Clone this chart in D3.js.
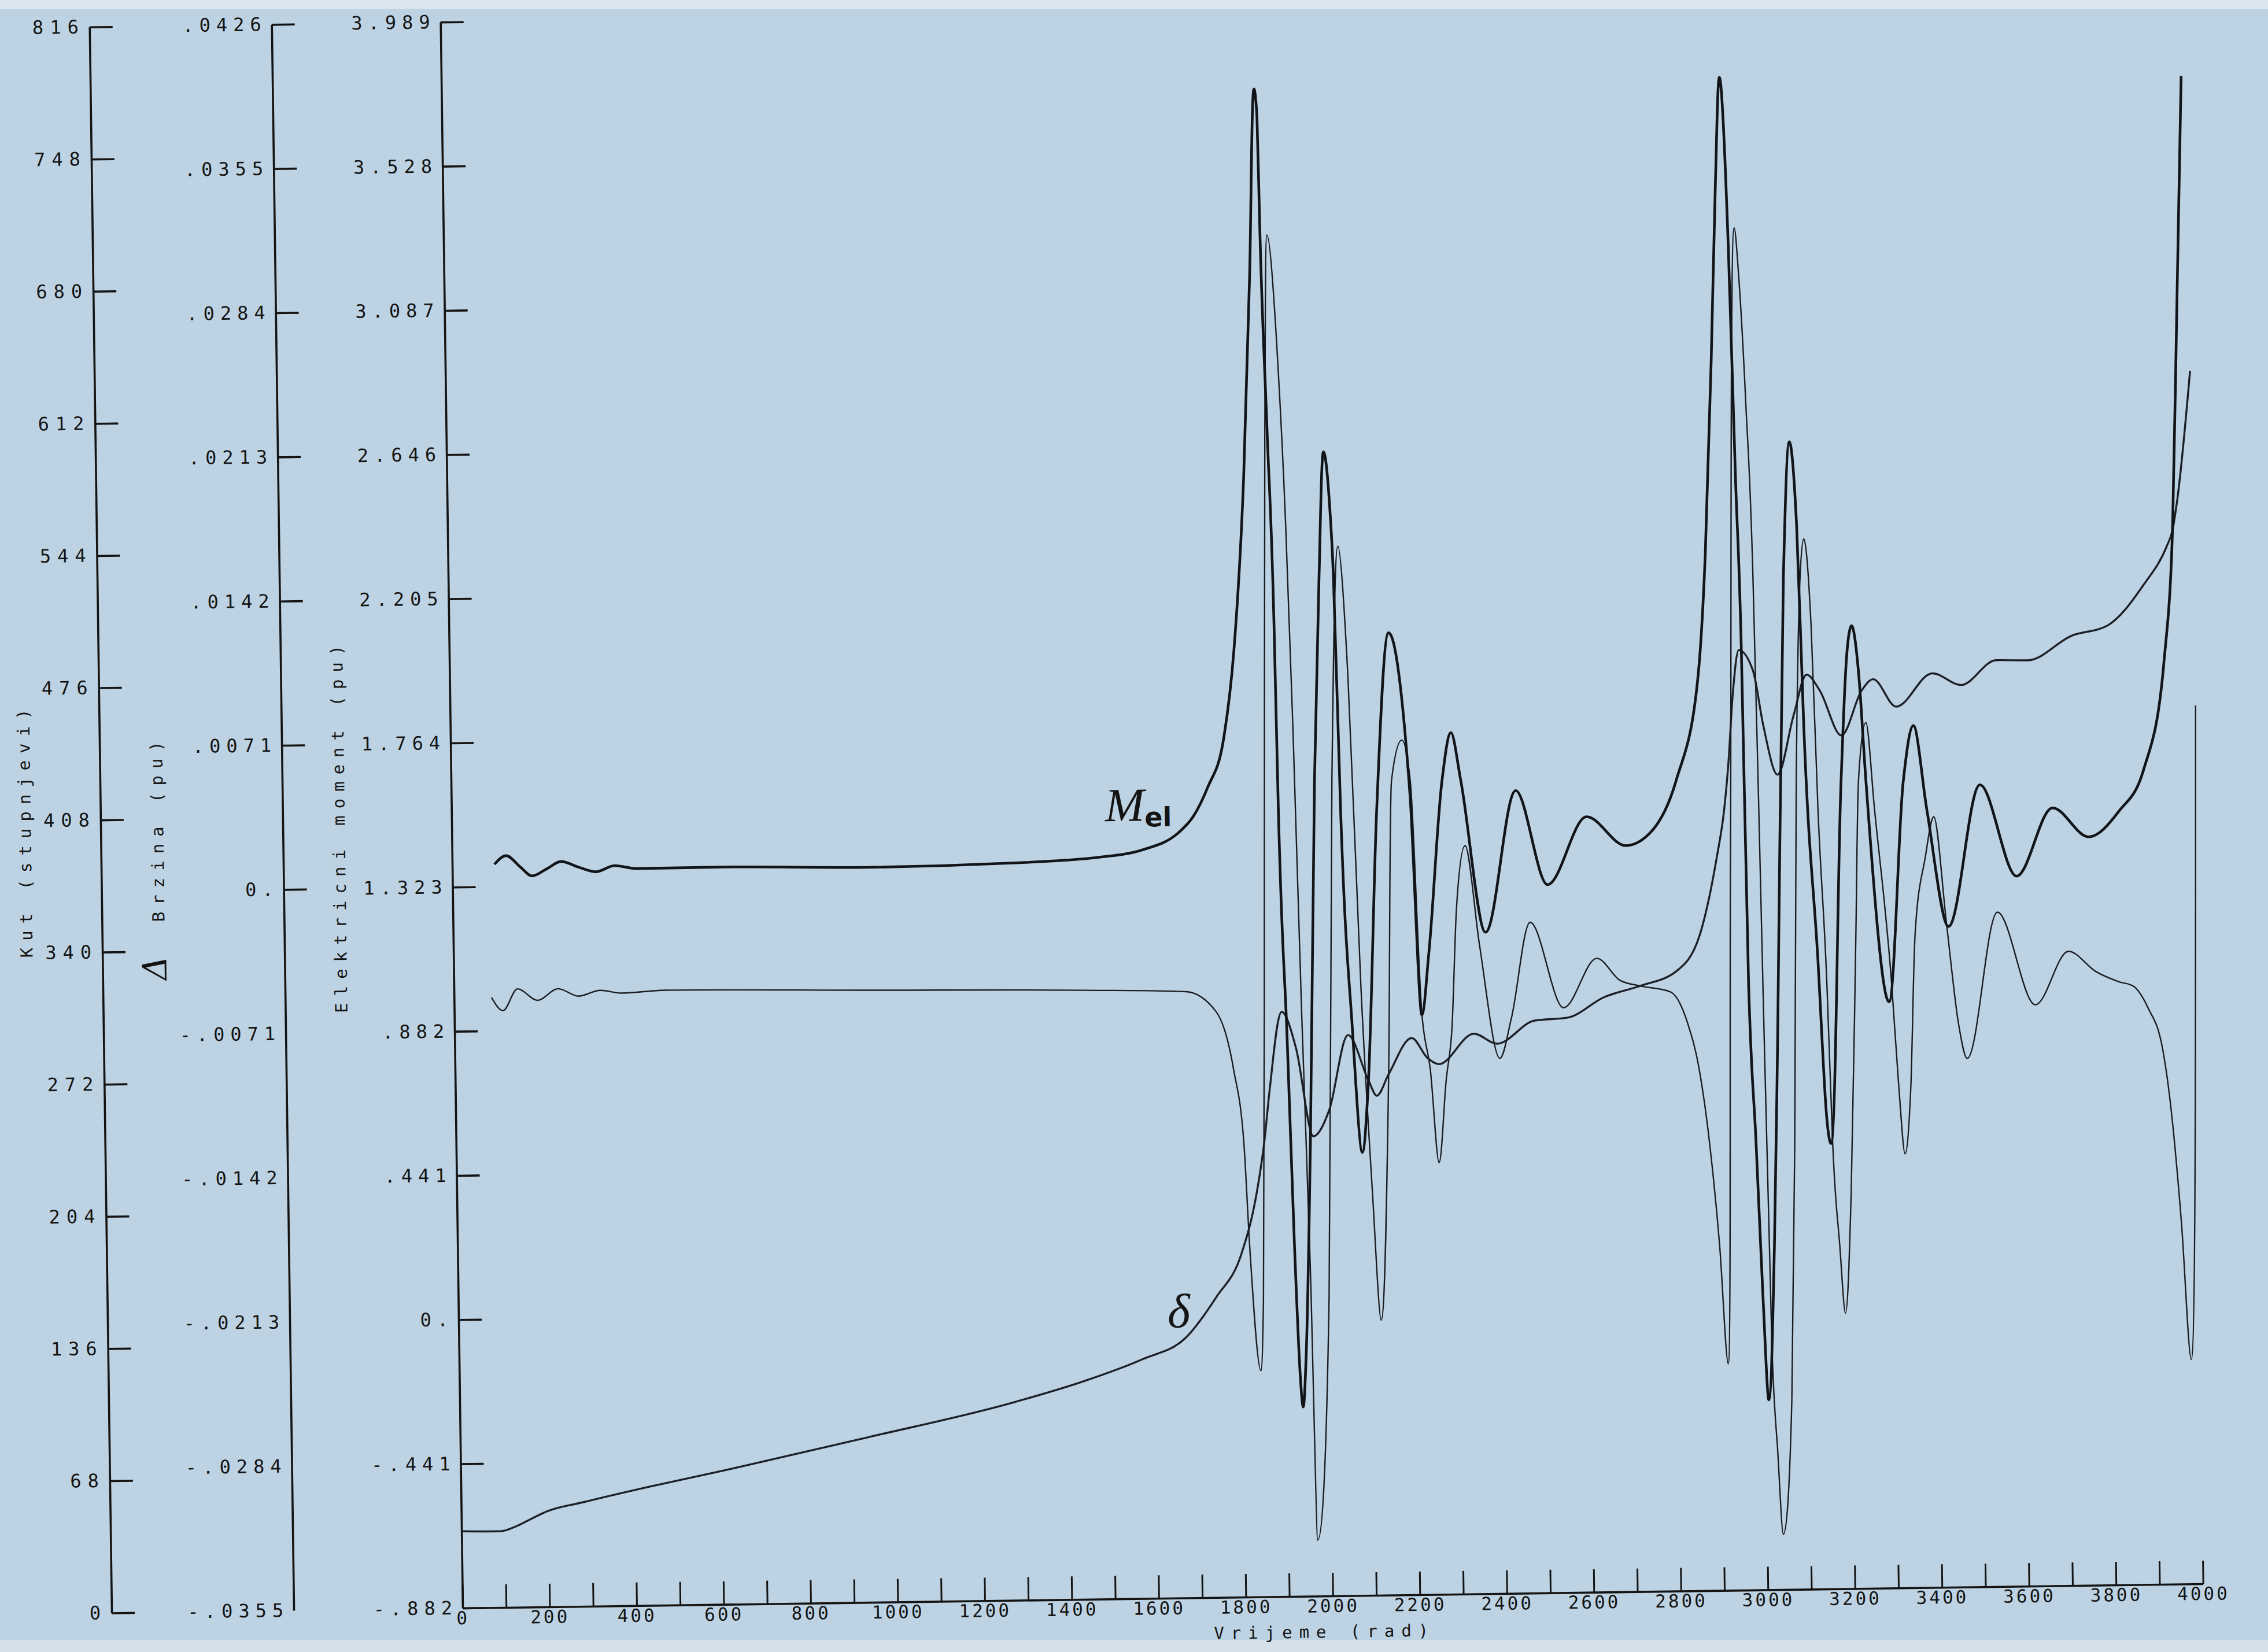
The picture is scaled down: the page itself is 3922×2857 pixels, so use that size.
<!DOCTYPE html>
<html>
<head>
<meta charset="utf-8">
<script src="https://cdn.jsdelivr.net/npm/d3@7/dist/d3.min.js"></script>
<style>
  html, body { margin: 0; padding: 0; background: #bdd3e3; }
  svg { display: block; }
</style>
</head>
<body>
<svg id="chart" width="3922" height="2857"></svg>
<script>
// ---------------- data ----------------
// time axis (rad)
const timeTickLabels = [0, 200, 400, 600, 800, 1000, 1200, 1400, 1600, 1800, 2000,
  2200, 2400, 2600, 2800, 3000, 3200, 3400, 3600, 3800, 4000];

// left axes: printed labels, bottom to top
const kutLabels = ["0", "68", "136", "204", "272", "340", "408", "476", "544", "612", "680", "748", "816"];
const kutValues = [0, 68, 136, 204, 272, 340, 408, 476, 544, 612, 680, 748, 816];
const brzinaLabels = ["-.0355", "-.0284", "-.0213", "-.0142", "-.0071", "0.", ".0071", ".0142", ".0213", ".0284", ".0355", ".0426"];
const brzinaValues = [-0.0355, -0.0284, -0.0213, -0.0142, -0.0071, 0, 0.0071, 0.0142, 0.0213, 0.0284, 0.0355, 0.0426];
const momentLabels = ["-.882", "-.441", "0.", ".441", ".882", "1.323", "1.764", "2.205", "2.646", "3.087", "3.528", "3.989"];
const momentStep = 0.441;
const momentBase = -0.882;

// electrical moment M_el (pu)
const melTime = [97, 124, 157, 183, 217, 250, 290, 330, 373, 423, 622, 955, 1287, 1487, 1587, 1670, 1704, 1738, 1776, 1803,
  1831, 1851, 1867, 1873, 1876, 1886, 1896, 1900, 1913, 1923, 1932, 1938, 1946, 1963, 1984, 2001, 2015, 2027, 2034, 2043,
  2063, 2082, 2097, 2126, 2159, 2203, 2223, 2241, 2277, 2299, 2320, 2372, 2446, 2516, 2608, 2697, 2757, 2815, 2869, 2889,
  2909, 2924, 2937, 2952, 2961, 2969, 2975, 2987, 2998, 3008, 3026, 3040, 3068, 3086, 3100, 3110, 3135, 3150, 3159, 3194,
  3212, 3223, 3238, 3251, 3297, 3337, 3362, 3390, 3436, 3513, 3594, 3679, 3761, 3832, 3889, 3939, 3964, 3981, 3998];
const melValue = [1.391, 1.417, 1.381, 1.354, 1.375, 1.397, 1.379, 1.364, 1.382, 1.372, 1.373, 1.366, 1.373, 1.387, 1.408, 1.459, 1.507, 1.595, 1.740, 2.014,
  2.544, 3.155, 3.730, 3.650, 3.305, 2.699, 2.088, 1.526, 0.817, 0.197, -0.201, -0.303, -0.157, 0.506, 1.612, 2.236, 2.617, 2.466, 2.235, 1.523,
  0.854, 0.473, 0.663, 1.521, 2.061, 1.564, 0.891, 1.077, 1.607, 1.753, 1.607, 1.141, 1.573, 1.284, 1.490, 1.400, 1.443, 1.597, 1.919, 2.282,
  2.879, 3.410, 3.746, 3.223, 2.524, 1.993, 0.966, 0.487, 0.014, -0.301, 0.172, 0.805, 2.216, 2.628, 2.371, 1.760, 1.042, 0.564, 0.480, 1.590,
  1.988, 2.063, 1.912, 1.589, 0.911, 1.587, 1.755, 1.498, 1.139, 1.571, 1.290, 1.497, 1.407, 1.485, 1.608, 1.930, 2.355, 3.036, 3.730];

// speed deviation (pu)
const speedTime = [86, 112, 146, 192, 239, 286, 336, 385, 485, 951, 1449, 1682, 1751, 1789, 1810, 1820, 1842, 1850, 1866, 1881,
  1892, 1912, 1926, 1936, 1947, 1959, 1967, 2001, 2024, 2045, 2064, 2084, 2104, 2120, 2145, 2161, 2186, 2204, 2223, 2241,
  2258, 2277, 2292, 2306, 2328, 2358, 2401, 2429, 2475, 2549, 2627, 2679, 2726, 2795, 2834, 2859, 2880, 2900, 2916, 2937,
  2966, 2975, 2987, 2998, 3004, 3017, 3027, 3037, 3061, 3076, 3091, 3116, 3130, 3140, 3155, 3163, 3176, 3187, 3204, 3223,
  3234, 3253, 3270, 3304, 3317, 3329, 3344, 3359, 3385, 3406, 3432, 3456, 3475, 3549, 3633, 3711, 3773, 3826, 3859, 3892,
  3924, 3942, 3962, 3980, 4011];
const speedValue = [-0.00546, -0.00611, -0.00505, -0.00563, -0.00507, -0.00545, -0.00518, -0.00533, -0.00522, -0.00536, -0.00551, -0.00565, -0.00667, -0.00953, -0.0131, -0.01816, -0.02437, -0.02095, 0.00042, 0.0218,
  0.03155, 0.02578, 0.01722, 0.00739, -0.00673, -0.01956, -0.03274, -0.02078, 0.00465, 0.01618, 0.00984, -0.00549, -0.01568, -0.02196, -0.00985, 0.00461, 0.00659, 0.00459, -0.00681, -0.00967,
  -0.01424, -0.01018, -0.00761, -0.00178, 0.00135, -0.00357, -0.00915, -0.00716, -0.00247, -0.0067, -0.00429, -0.00538, -0.00568, -0.00599, -0.00757, -0.00986, -0.01342, -0.01849, -0.02434, 0.00009,
  0.03158, 0.02916, 0.02302, 0.0144, 0.00292, -0.02358, -0.02872, -0.03278, -0.02616, -0.01348, 0.00433, 0.01622, 0.01194, 0.00288, -0.00581, -0.01351, -0.01857, -0.02193, -0.01601, -0.00333,
  0.00428, 0.00713, 0.00284, -0.00586, -0.01089, -0.01413, -0.011, -0.00337, 0.00046, 0.00245, -0.0029, -0.00775, -0.00947, -0.00229, -0.00688, -0.00427, -0.00528, -0.0058, -0.00603, -0.00711,
  -0.00911, -0.01217, -0.01774, -0.02445, 0.00775];

// rotor angle delta (degrees)
const angleTime = [2, 89, 129, 156, 199, 279, 436, 603, 936, 1270, 1437, 1570, 1671, 1742, 1800, 1838, 1857, 1871, 1901, 1933,
  1970, 2007, 2053, 2098, 2117, 2145, 2199, 2235, 2261, 2342, 2395, 2482, 2558, 2642, 2726, 2809, 2864, 2906, 2924, 2935,
  2948, 2963, 2995, 3017, 3048, 3087, 3118, 3148, 3196, 3244, 3271, 3323, 3407, 3473, 3554, 3627, 3728, 3811, 3895, 3950,
  3963, 3975, 4009];
const angleValue = [39.5, 39.2, 42.0, 44.9, 49.3, 53.5, 61.2, 68.8, 84.9, 101.7, 112.4, 123.1, 134.0, 154.6, 176.0, 207.9, 233.9, 260.7, 300.8, 282.0,
  236.6, 249.8, 288.4, 265.2, 257.0, 268.0, 286.4, 276.0, 272.8, 288.2, 282.9, 294.5, 295.8, 306.0, 311.6, 318.8, 337.2, 377.3, 401.0, 424.0,
  461.3, 483.6, 473.0, 444.7, 419.3, 449.7, 470.5, 462.2, 439.0, 461.9, 467.7, 453.4, 470.3, 464.1, 476.6, 476.3, 488.6, 493.6, 514.2, 534.1,
  541.6, 557.1, 624.0];

// ---------------- drawing ----------------
const INK = "#141414";
const MONO = "'DejaVu Sans Mono', 'Liberation Mono', monospace";
const svg = d3.select("#chart");

svg.append("rect").attr("width", 3922).attr("height", 2857).attr("fill", "#bdd3e3");
svg.append("rect").attr("width", 3922).attr("height", 16).attr("fill", "#dbe5ed");
svg.append("rect").attr("y", 2836).attr("width", 3922).attr("height", 21).attr("fill", "#d6e0e8");

// the sheet sits slightly rotated
const g = svg.append("g").attr("transform", "rotate(-0.8 800 2781)");

const x = d3.scaleLinear().domain([0, 4000]).range([800, 3810]);
const yMoment = d3.scaleLinear().domain([momentBase, momentBase + 11 * momentStep]).range([2781, 38]);
const yKut = d3.scaleLinear().domain([0, 816]).range([2781, 38]);
const yBrzina = d3.scaleLinear().domain([-0.0355, 0.0426]).range([2781, 38]);

function styleAxis(sel, fontSize, spacing) {
  sel.select(".domain").attr("stroke", INK).attr("stroke-width", 3.6);
  sel.selectAll(".tick line").attr("stroke", INK).attr("stroke-width", 3.6);
  sel.selectAll(".tick text")
    .attr("fill", INK)
    .style("font-family", MONO)
    .style("font-size", fontSize + "px")
    .style("letter-spacing", spacing + "px");
}

// Kut axis
const kutAxis = d3.axisLeft(yKut)
  .tickValues(kutValues)
  .tickFormat((d, i) => kutLabels[i])
  .tickSizeInner(-40).tickSizeOuter(0).tickPadding(8);
const gKut = g.append("g").attr("transform", "translate(193,0)").call(kutAxis);
styleAxis(gKut, 32, 11);

// Brzina axis
const brzAxis = d3.axisLeft(yBrzina)
  .tickValues(brzinaValues)
  .tickFormat((d, i) => brzinaLabels[i])
  .tickSizeInner(-40).tickSizeOuter(0).tickPadding(8);
const gBrz = g.append("g").attr("transform", "translate(508,0)").call(brzAxis);
styleAxis(gBrz, 32, 10);
gBrz.selectAll(".tick").filter(d => d < 0).select("line").remove();

// moment axis
const momentValues = momentLabels.map((_, i) => momentBase + i * momentStep);
const momAxis = d3.axisLeft(yMoment)
  .tickValues(momentValues)
  .tickFormat((d, i) => momentLabels[i])
  .tickSizeInner(-40).tickSizeOuter(0).tickPadding(8);
const gMom = g.append("g").attr("transform", "translate(800,0)").call(momAxis);
styleAxis(gMom, 32, 10);

// time axis
const timeAxis = d3.axisBottom(x)
  .tickValues(d3.range(0, 4001, 100))
  .tickFormat(d => timeTickLabels.includes(d) ? String(d) : "")
  .tickSizeInner(-40).tickSizeOuter(0).tickPadding(6);
const gTime = g.append("g").attr("transform", "translate(0,2781)").call(timeAxis);
styleAxis(gTime, 31, 4);
gTime.selectAll(".tick line").attr("stroke-width", 3);

// axis titles
function vTitle(txt, cx, cy) {
  g.append("text")
    .attr("transform", `translate(${cx},${cy}) rotate(-90)`)
    .attr("text-anchor", "middle")
    .attr("dy", "0.35em")
    .attr("fill", INK)
    .style("font-family", MONO)
    .style("font-size", "29px")
    .style("letter-spacing", "12px")
    .text(txt);
}
vTitle("Kut (stupnjevi)", 62, 1425);
vTitle("Brzina (pu)", 291, 1425);
vTitle("Elektricni moment (pu)", 605, 1425);
g.append("text")
  .attr("transform", "translate(283,1667) rotate(-90)")
  .attr("text-anchor", "middle")
  .attr("dy", "0.35em")
  .attr("fill", INK)
  .style("font-family", "'DejaVu Serif', serif")
  .style("font-style", "italic")
  .style("font-size", "58px")
  .text("Δ");
g.append("text")
  .attr("x", 2290).attr("y", 2853)
  .attr("text-anchor", "middle")
  .attr("fill", INK)
  .style("font-family", MONO)
  .style("font-size", "29px")
  .style("letter-spacing", "12px")
  .text("Vrijeme (rad)");

// curves
const zip = (a, b) => a.map((t, i) => [t, b[i]]);
const lineOf = (yScale) => d3.line().x(d => x(d[0])).y(d => yScale(d[1])).curve(d3.curveMonotoneX);

g.append("path").datum(zip(angleTime, angleValue))
  .attr("d", lineOf(yKut)).attr("fill", "none").attr("stroke", "#1c2026").attr("stroke-width", 3.4);
g.append("path").datum(zip(speedTime, speedValue))
  .attr("d", lineOf(yBrzina)).attr("fill", "none").attr("stroke", "#1a1d22").attr("stroke-width", 2.4);
g.append("path").datum(zip(melTime, melValue))
  .attr("d", lineOf(yMoment)).attr("fill", "none").attr("stroke", "#111418").attr("stroke-width", 4.6);

// curve labels
const mLabel = g.append("text")
  .attr("x", 1930).attr("y", 1436)
  .attr("fill", INK)
  .style("font-family", "'Liberation Serif', 'DejaVu Serif', serif")
  .style("font-style", "italic")
  .style("font-size", "82px")
  .text("M");
mLabel.append("tspan")
  .attr("dy", 10)
  .style("font-size", "46px")
  .style("font-weight", "bold")
  .style("font-style", "normal")
  .style("font-family", "'DejaVu Sans', sans-serif")
  .text("el");
g.append("text")
  .attr("x", 2026).attr("y", 2313)
  .attr("fill", INK)
  .style("font-family", "'Liberation Serif', 'DejaVu Serif', serif")
  .style("font-style", "italic")
  .style("font-size", "84px")
  .text("δ");
</script>
</body>
</html>
